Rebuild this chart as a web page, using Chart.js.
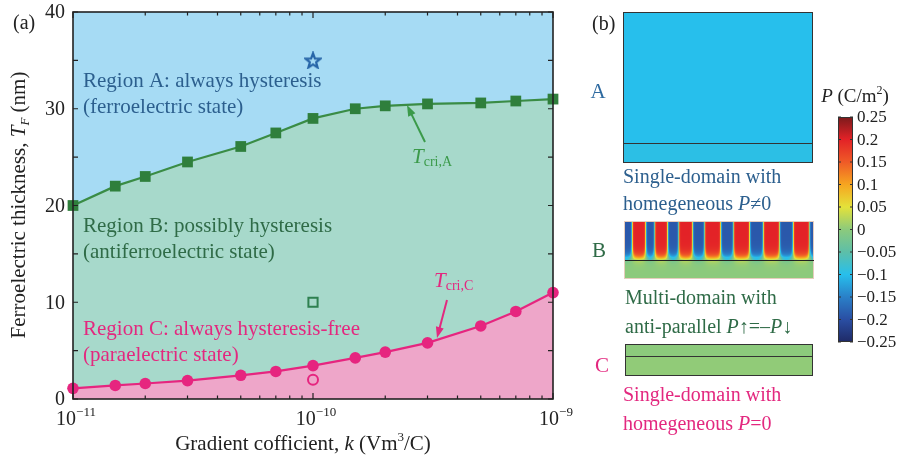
<!DOCTYPE html>
<html>
<head>
<meta charset="utf-8">
<script src="https://cdn.jsdelivr.net/npm/chart.js@4/dist/chart.umd.min.js"></script>
<style>
  body { margin: 0; background: #fff; }
</style>
</head>
<body>
<canvas id="phaseChart" width="897" height="465"></canvas>
<script>
// phase diagram data
const kValues = [1e-11, 1.5e-11, 2e-11, 3e-11, 5e-11, 7e-11, 1e-10, 1.5e-10, 2e-10, 3e-10, 5e-10, 7e-10, 1e-9];
const tCriA = [20, 22, 23, 24.5, 26.1, 27.5, 29, 30, 30.3, 30.5, 30.6, 30.8, 31];
const tCriC = [1.1, 1.4, 1.6, 1.9, 2.45, 2.85, 3.45, 4.25, 4.85, 5.8, 7.55, 9.05, 11];
// the three sample states shown in panel (b)
const sampleK = [1e-10, 1e-10, 1e-10];
const sampleT = [35, 10, 2];

const yTicks = [0, 10, 20, 30, 40];
const xTickValues = [1e-11, 1e-10, 1e-9];
const xTickLabels = [["10", "\u221211"], ["10", "\u221210"], ["10", "\u22129"]];

// colour bar
const cbTicks = [0.25, 0.2, 0.15, 0.1, 0.05, 0, -0.05, -0.1, -0.15, -0.2, -0.25];
const cbLabels = ["0.25", "0.2", "0.15", "0.1", "0.05", "0", "\u22120.05", "\u22120.1", "\u22120.15", "\u22120.2", "\u22120.25"];
const cbColors = ["#7b1a1c", "#e32227", "#ef5a27", "#f6a520", "#e4e23a", "#8cca7c", "#5dbfa8", "#27bfec", "#2a80c8", "#2a4ea3", "#1f2a66"];

// polarization of the sample states (film, substrate) and domain walls of state B
const filmP = [-0.1, 0.2, 0];
const substrateP = [-0.095, 0, 0.003];
const domainWallsB = [0.038, 0.110, 0.157, 0.226, 0.284, 0.358, 0.421, 0.507, 0.574, 0.660, 0.732, 0.818, 0.890, 0.976];

const SERIF = '"Liberation Serif", "Times New Roman", serif';
const blueText = "#2c5f8e", greenText = "#2f6b47", pinkText = "#e3287f";

function fontOf(p) {
  return (p.i ? "italic " : "") + p.s + "px " + SERIF;
}

function drawRuns(ctx, parts, x, y, align, color) {
  ctx.fillStyle = color;
  ctx.textAlign = "left";
  ctx.textBaseline = "alphabetic";
  let total = 0;
  parts.forEach(p => { ctx.font = fontOf(p); p.w = ctx.measureText(p.t).width; total += p.w; });
  let cx = align === "center" ? x - total / 2 : align === "right" ? x - total : x;
  parts.forEach(p => { ctx.font = fontOf(p); ctx.fillText(p.t, cx, y + (p.dy || 0)); cx += p.w; });
}

function arrow(ctx, x1, y1, x2, y2, color) {
  const a = Math.atan2(y2 - y1, x2 - x1);
  const len = 11, half = 4;
  ctx.strokeStyle = color;
  ctx.fillStyle = color;
  ctx.lineWidth = 2;
  ctx.beginPath();
  ctx.moveTo(x1, y1);
  ctx.lineTo(x2 - Math.cos(a) * len * 0.8, y2 - Math.sin(a) * len * 0.8);
  ctx.stroke();
  ctx.beginPath();
  ctx.moveTo(x2, y2);
  ctx.lineTo(x2 - Math.cos(a) * len + Math.sin(a) * half, y2 - Math.sin(a) * len - Math.cos(a) * half);
  ctx.lineTo(x2 - Math.cos(a) * len - Math.sin(a) * half, y2 - Math.sin(a) * len + Math.cos(a) * half);
  ctx.closePath();
  ctx.fill();
}

function hexRgb(h) {
  return [parseInt(h.slice(1, 3), 16), parseInt(h.slice(3, 5), 16), parseInt(h.slice(5, 7), 16)];
}
const cbRgb = cbColors.map(hexRgb);

function pColor(p) {
  // cbTicks run from 0.25 down to -0.25
  let f = (0.25 - p) / 0.05;
  f = Math.max(0, Math.min(cbTicks.length - 1, f));
  const i = Math.min(cbTicks.length - 2, Math.floor(f));
  const t = f - i;
  const a = cbRgb[i], b = cbRgb[i + 1];
  return [a[0] + (b[0] - a[0]) * t, a[1] + (b[1] - a[1]) * t, a[2] + (b[2] - a[2]) * t];
}

function rgbStr(c) {
  return "rgb(" + c.map(Math.round).join(",") + ")";
}

// open star marker
const starImg = document.createElement("canvas");
starImg.width = 18; starImg.height = 18;
(function () {
  const c = starImg.getContext("2d");
  c.strokeStyle = "#2866a8";
  c.lineWidth = 2.2;
  c.lineJoin = "miter";
  c.beginPath();
  for (let i = 0; i < 10; i++) {
    const r = i % 2 === 0 ? 7.8 : 3.3;
    const a = -Math.PI / 2 + i * Math.PI / 5;
    const x = 9 + r * Math.cos(a), y = 9.8 + r * Math.sin(a);
    if (i === 0) c.moveTo(x, y); else c.lineTo(x, y);
  }
  c.closePath();
  c.stroke();
})();

// domain field of state B
function fieldB(w, hf, hs) {
  const img = new ImageData(w, hf + hs);
  for (let i = 0; i < w; i++) {
    const u = (i + 0.5) / w;
    let n = 0, d = 1e9;
    domainWallsB.forEach(wl => { if (wl < u) n++; d = Math.min(d, Math.abs(u - wl) * w); });
    const sign = n % 2 === 0 ? -1 : 1;
    const amp = sign > 0 ? filmP[1] : -0.19;
    for (let j = 0; j < hf + hs; j++) {
      let p;
      if (j < hf) {
        const t = hf - j;
        const ww = 0.9 + 4 * Math.exp(-t / 4);
        p = amp * Math.tanh(d / ww) * (1 - Math.exp(-t / 4));
        if (sign < 0) p = Math.min(p, -0.1 * Math.tanh(d / ww));
      } else {
        const s = j - hf;
        p = substrateP[1] + sign * 0.03 * Math.tanh(d / 4) * Math.exp(-s / 3);
      }
      const c = pColor(p);
      const k = (j * w + i) * 4;
      img.data[k] = c[0]; img.data[k + 1] = c[1]; img.data[k + 2] = c[2]; img.data[k + 3] = 255;
    }
  }
  return img;
}

function drawSlab(ctx, x, y, w, hf, hs, pf, ps) {
  ctx.fillStyle = rgbStr(pColor(pf));
  ctx.fillRect(x, y, w, hf);
  ctx.fillStyle = rgbStr(pColor(ps));
  ctx.fillRect(x, y + hf, w, hs);
}

const decor = {
  id: "decor",
  beforeDraw(chart) {
    const { ctx, chartArea: a } = chart;
    ctx.save();
    ctx.fillStyle = "#a6dbf4";
    ctx.fillRect(a.left, a.top, a.right - a.left, a.bottom - a.top);
    ctx.restore();
  },
  afterDraw(chart) {
    const { ctx, chartArea: a } = chart;
    const xs = chart.scales.x, ys = chart.scales.y;
    ctx.save();

    // frame
    ctx.strokeStyle = "#222";
    ctx.lineWidth = 1.6;
    ctx.strokeRect(a.left, a.top, a.right - a.left, a.bottom - a.top);

    // inward ticks
    ctx.lineWidth = 1.2;
    ctx.beginPath();
    for (let v = ys.min; v <= ys.max; v += 5) {
      const py = ys.getPixelForValue(v);
      ctx.moveTo(a.left, py); ctx.lineTo(a.left + 5, py);
      ctx.moveTo(a.right, py); ctx.lineTo(a.right - 5, py);
    }
    for (let e = -11; e < -9; e++) {
      for (let m = 1; m <= 10; m++) {
        const px = xs.getPixelForValue(m * Math.pow(10, e));
        const len = (m === 1 || m === 10) ? 6 : 3.5;
        ctx.moveTo(px, a.bottom); ctx.lineTo(px, a.bottom - len);
        ctx.moveTo(px, a.top); ctx.lineTo(px, a.top + len);
      }
    }
    ctx.stroke();

    // tick labels
    ctx.fillStyle = "#222";
    ctx.font = "20px " + SERIF;
    ctx.textAlign = "right";
    ctx.textBaseline = "middle";
    yTicks.forEach(v => ctx.fillText(String(v), a.left - 8, ys.getPixelForValue(v) + 1));
    xTickValues.forEach((v, i) => {
      drawRuns(ctx, [{ t: xTickLabels[i][0], s: 20 }, { t: xTickLabels[i][1], s: 13, dy: -9 }],
        xs.getPixelForValue(v) + 3, a.bottom + 26, "center", "#222");
    });

    // axis titles
    drawRuns(ctx, [{ t: "Gradient cofficient, ", s: 21 }, { t: "k", s: 21, i: true }, { t: " (Vm", s: 21 },
      { t: "3", s: 13, dy: -9 }, { t: "/C)", s: 21 }], 303, 450, "center", "#222");
    ctx.save();
    ctx.translate(25, 205);
    ctx.rotate(-Math.PI / 2);
    drawRuns(ctx, [{ t: "Ferroelectric thickness, ", s: 21 }, { t: "T", s: 21, i: true }, { t: "F", s: 13, i: true, dy: 4 },
      { t: " (nm)", s: 21 }], 0, 0, "center", "#222");
    ctx.restore();

    drawRuns(ctx, [{ t: "(a)", s: 20 }], 13, 29, "left", "#222");
    drawRuns(ctx, [{ t: "(b)", s: 20 }], 592, 30, "left", "#222");

    // region texts
    drawRuns(ctx, [{ t: "Region A: always hysteresis", s: 21 }], 83, 87, "left", blueText);
    drawRuns(ctx, [{ t: "(ferroelectric state)", s: 21 }], 83, 113, "left", blueText);
    drawRuns(ctx, [{ t: "Region B: possibly hysteresis", s: 21 }], 83, 232, "left", greenText);
    drawRuns(ctx, [{ t: "(antiferroelectric state)", s: 21 }], 83, 258, "left", greenText);
    drawRuns(ctx, [{ t: "Region C: always hysteresis-free", s: 21 }], 83, 335, "left", pinkText);
    drawRuns(ctx, [{ t: "(paraelectric state)", s: 21 }], 83, 361, "left", pinkText);

    // critical thickness labels
    drawRuns(ctx, [{ t: "T", s: 21, i: true }, { t: "cri,A", s: 14, dy: 3 }], 412, 163, "left", "#3b9a4a");
    arrow(ctx, 425, 142, 407, 105, "#3b9a4a");
    drawRuns(ctx, [{ t: "T", s: 21, i: true }, { t: "cri,C", s: 14, dy: 3 }], 434, 287, "left", pinkText);
    arrow(ctx, 447, 300, 437, 338, pinkText);

    // panel (b): state A
    drawSlab(ctx, 623, 12, 190, 131, 19, filmP[0], substrateP[0]);
    // state B
    ctx.putImageData(fieldB(189, 38, 19), 625, 222);
    // state C
    drawSlab(ctx, 625, 344, 188, 12, 19, filmP[2], substrateP[2]);

    ctx.strokeStyle = "#333";
    ctx.lineWidth = 1;
    ctx.strokeRect(623.5, 12.5, 189, 150);
    ctx.beginPath(); ctx.moveTo(623, 143.5); ctx.lineTo(813, 143.5); ctx.stroke();
    ctx.strokeStyle = "#e6cdbd";
    ctx.strokeRect(624.5, 221.5, 189, 57);
    ctx.strokeStyle = "#222";
    ctx.beginPath(); ctx.moveTo(625, 260.5); ctx.lineTo(814, 260.5); ctx.stroke();
    ctx.strokeStyle = "#333";
    ctx.strokeRect(625.5, 344.5, 187, 31);
    ctx.beginPath(); ctx.moveTo(625, 356.5); ctx.lineTo(813, 356.5); ctx.stroke();

    drawRuns(ctx, [{ t: "A", s: 21 }], 598, 98, "center", "#2e6aa0");
    drawRuns(ctx, [{ t: "B", s: 21 }], 599, 257, "center", greenText);
    drawRuns(ctx, [{ t: "C", s: 21 }], 602, 372, "center", pinkText);

    drawRuns(ctx, [{ t: "Single-domain with", s: 20 }], 623, 183, "left", blueText);
    drawRuns(ctx, [{ t: "homegeneous ", s: 20 }, { t: "P", s: 20, i: true }, { t: "\u2260", s: 20 }, { t: "0", s: 20 }], 623, 210, "left", blueText);
    drawRuns(ctx, [{ t: "Multi-domain with", s: 20 }], 625, 304, "left", greenText);
    drawRuns(ctx, [{ t: "anti-parallel ", s: 20 }, { t: "P", s: 20, i: true }, { t: "\u2191=\u2013", s: 20 }, { t: "P", s: 20, i: true }, { t: "\u2193", s: 20 }], 625, 333, "left", greenText);
    drawRuns(ctx, [{ t: "Single-domain with", s: 20 }], 623, 401, "left", pinkText);
    drawRuns(ctx, [{ t: "homegeneous ", s: 20 }, { t: "P", s: 20, i: true }, { t: "=0", s: 20 }], 623, 430, "left", pinkText);

    // colour bar
    const cbX = 838, cbW = 15, cbTop = 117, cbBot = 342;
    const grad = ctx.createLinearGradient(0, cbTop, 0, cbBot);
    cbColors.forEach((c, i) => grad.addColorStop(i / (cbColors.length - 1), c));
    ctx.fillStyle = grad;
    ctx.fillRect(cbX, cbTop, cbW, cbBot - cbTop);
    ctx.strokeStyle = "#333";
    ctx.lineWidth = 1;
    ctx.strokeRect(cbX + 0.5, cbTop + 0.5, cbW - 1, cbBot - cbTop - 1);
    ctx.beginPath();
    cbTicks.forEach(v => {
      const py = cbTop + (0.25 - v) / 0.5 * (cbBot - cbTop);
      ctx.moveTo(cbX, py); ctx.lineTo(cbX + 3, py);
      ctx.moveTo(cbX + cbW, py); ctx.lineTo(cbX + cbW - 3, py);
    });
    ctx.stroke();
    ctx.fillStyle = "#222";
    ctx.font = "17px " + SERIF;
    ctx.textAlign = "left";
    ctx.textBaseline = "middle";
    cbTicks.forEach((v, i) => {
      const py = cbTop + (0.25 - v) / 0.5 * (cbBot - cbTop);
      ctx.fillText(cbLabels[i], 857, py + 1);
    });
    drawRuns(ctx, [{ t: "P", s: 19, i: true }, { t: " (C/m", s: 19 }, { t: "2", s: 12, dy: -8 }, { t: ")", s: 19 }], 855, 102, "center", "#222");

    ctx.restore();
  }
};

const ctx = document.getElementById("phaseChart").getContext("2d");
const phaseChart = new Chart(ctx, {
  type: "line",
  data: {
    datasets: [
      {
        // state A sample (star)
        data: [{ x: sampleK[0], y: sampleT[0] }],
        showLine: false,
        pointStyle: starImg,
        clip: false,
      },
      {
        // state B sample (open square)
        data: [{ x: sampleK[1], y: sampleT[1] }],
        showLine: false,
        pointStyle: "rect",
        pointRadius: 6.5,
        pointBorderWidth: 2,
        pointBorderColor: "#2e8050",
        pointBackgroundColor: "rgba(0,0,0,0)",
        clip: false,
      },
      {
        // state C sample (open circle)
        data: [{ x: sampleK[2], y: sampleT[2] }],
        showLine: false,
        pointStyle: "circle",
        pointRadius: 5,
        pointBorderWidth: 2,
        pointBorderColor: "#e6257f",
        pointBackgroundColor: "rgba(0,0,0,0)",
        clip: false,
      },
      {
        label: "T cri,C",
        data: kValues.map((k, i) => ({ x: k, y: tCriC[i] })),
        borderColor: "#e6257f",
        borderWidth: 2.2,
        backgroundColor: "#eea6c9",
        fill: "start",
        pointStyle: "circle",
        pointRadius: 5.8,
        pointBorderWidth: 0,
        pointBackgroundColor: "#e6257f",
        tension: 0,
        clip: false,
      },
      {
        label: "T cri,A",
        data: kValues.map((k, i) => ({ x: k, y: tCriA[i] })),
        borderColor: "#3a8c45",
        borderWidth: 2.2,
        backgroundColor: "#a7d9cb",
        fill: "start",
        pointStyle: "rect",
        pointRadius: 7.6,
        pointBorderWidth: 0,
        pointBackgroundColor: "#2f7f3c",
        tension: 0,
        clip: false,
      },
    ],
  },
  options: {
    responsive: false,
    animation: false,
    layout: { padding: { left: 73, right: 344, top: 12, bottom: 66 } },
    plugins: { legend: { display: false }, tooltip: { enabled: false } },
    scales: {
      x: { type: "logarithmic", min: 1e-11, max: 1e-9, display: false },
      y: { type: "linear", min: 0, max: 40, display: false },
    },
  },
  plugins: [decor],
});
</script>
</body>
</html>
